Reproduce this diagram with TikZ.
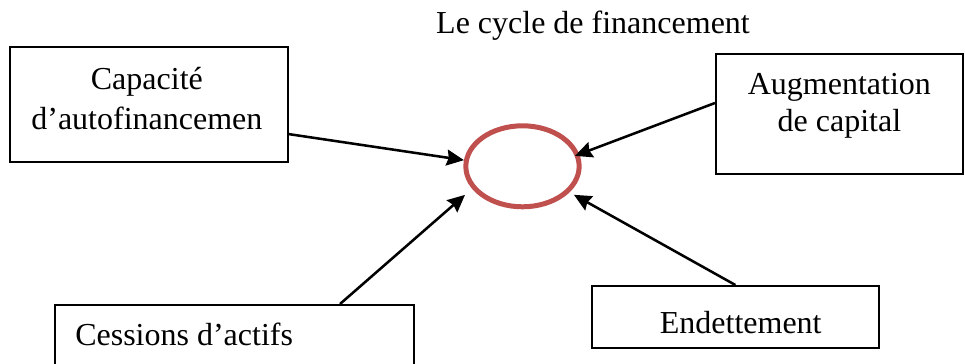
\documentclass[tikz,border=0pt]{standalone}
\usepackage{fontspec}
\setmainfont{Liberation Serif}
\usetikzlibrary{positioning,shapes.geometric,arrows.meta}
\definecolor{ringred}{RGB}{192,80,77}
\begin{document}
\begin{tikzpicture}
    [ x=0.75pt, y=-0.75pt
    , every node/.style={font=\fontsize{24pt}{27.5pt}\selectfont}
    , box/.style={draw,shape=rectangle,line width=1.3pt,anchor=north west,inner sep=0pt}
    , txt/.style={inner sep=0pt,align=center,anchor=north}
    , ring/.style={draw=ringred,shape=ellipse,line width=3.75pt,inner sep=0pt,minimum width=85pt,minimum height=60.75pt}
    , feed/.style={-{Stealth[length=13pt,width=12pt,inset=1.5pt]},line width=1.9pt}
    ]
    \clip (0,0) rectangle (965,364);

    \node [txt] (title) at (593,11) {Le cycle de financement};

    \node [ring] (fin) at (522.5,166.3) {};

    \node [box, minimum width=208.5pt, minimum height=86.25pt] (caf)   at (9,46)   {};
    \node [box, minimum width=185.25pt, minimum height=90pt]   (augm)  at (715,53) {};
    \node [box, minimum width=269.25pt, minimum height=52.5pt] (cess)  at (54,304) {};
    \node [box, minimum width=215.25pt, minimum height=46.5pt] (endet) at (591,285) {};

    \node [txt, below=16pt of caf.north, xshift=-1.5pt] (caf-t) {Capacité\\[2.5pt]d’autofinancemen};
    \node [txt, below=15pt of augm.north] (augm-t) {Augmentation\\de capital};
    \node [txt, below right=14.25pt and 15.75pt of cess.north west] (cess-t) {Cessions d’actifs};
    \node [txt, below=19.5pt of endet.north, xshift=4pt] (endet-t) {Endettement};

    \draw [feed] (caf.-12.4) -- (fin.174);
    \draw [feed, shorten >=-3.5pt] (augm.175.4) -- (fin.12);
    \draw [feed, shorten >=7pt] ([xshift=214.5pt]cess.north west) -- (fin.204);
    \draw [feed, shorten >=3.75pt] (endet.north) -- (fin.331);
  \end{tikzpicture}
\end{document}
